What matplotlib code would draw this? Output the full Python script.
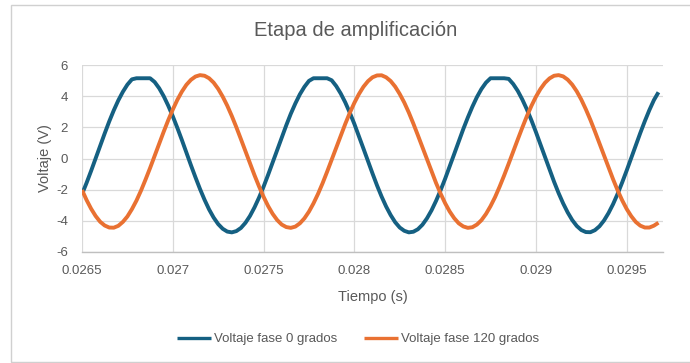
import matplotlib
matplotlib.use("Agg")
import matplotlib.pyplot as plt
from matplotlib.patches import Rectangle

plt.rcParams["font.family"] = ["Liberation Sans", "DejaVu Sans"]
plt.rcParams["axes.unicode_minus"] = False

# tiempo de muestreo (s)
tiempo = [
    0.026500, 0.026525, 0.026550, 0.026575, 0.026600, 0.026625, 0.026650, 0.026675,
    0.026700, 0.026725, 0.026750, 0.026775, 0.026800, 0.026825, 0.026850, 0.026875,
    0.026900, 0.026925, 0.026950, 0.026975, 0.027000, 0.027025, 0.027050, 0.027075,
    0.027100, 0.027125, 0.027150, 0.027175, 0.027200, 0.027225, 0.027250, 0.027275,
    0.027300, 0.027325, 0.027350, 0.027375, 0.027400, 0.027425, 0.027450, 0.027475,
    0.027500, 0.027525, 0.027550, 0.027575, 0.027600, 0.027625, 0.027650, 0.027675,
    0.027700, 0.027725, 0.027750, 0.027775, 0.027800, 0.027825, 0.027850, 0.027875,
    0.027900, 0.027925, 0.027950, 0.027975, 0.028000, 0.028025, 0.028050, 0.028075,
    0.028100, 0.028125, 0.028150, 0.028175, 0.028200, 0.028225, 0.028250, 0.028275,
    0.028300, 0.028325, 0.028350, 0.028375, 0.028400, 0.028425, 0.028450, 0.028475,
    0.028500, 0.028525, 0.028550, 0.028575, 0.028600, 0.028625, 0.028650, 0.028675,
    0.028700, 0.028725, 0.028750, 0.028775, 0.028800, 0.028825, 0.028850, 0.028875,
    0.028900, 0.028925, 0.028950, 0.028975, 0.029000, 0.029025, 0.029050, 0.029075,
    0.029100, 0.029125, 0.029150, 0.029175, 0.029200, 0.029225, 0.029250, 0.029275,
    0.029300, 0.029325, 0.029350, 0.029375, 0.029400, 0.029425, 0.029450, 0.029475,
    0.029500, 0.029525, 0.029550, 0.029575, 0.029600, 0.029625, 0.029650, 0.029675,
]

# voltaje fase 0 grados (V)
v_fase0 = [
    -2.29, -1.57, -0.80, 0.01, 0.82, 1.61, 2.38, 3.09,
    3.73, 4.28, 4.74, 5.08, 5.15, 5.15, 5.15, 5.15,
    4.91, 4.51, 4.00, 3.39, 2.71, 1.97, 1.19, 0.38,
    -0.43, -1.21, -1.96, -2.65, -3.27, -3.79, -4.21, -4.51,
    -4.69, -4.74, -4.66, -4.46, -4.13, -3.69, -3.14, -2.51,
    -1.81, -1.05, -0.25, 0.55, 1.36, 2.13, 2.87, 3.53,
    4.12, 4.60, 4.98, 5.15, 5.15, 5.15, 5.15, 5.02,
    4.65, 4.17, 3.60, 2.94, 2.22, 1.44, 0.64, -0.17,
    -0.96, -1.73, -2.44, -3.08, -3.63, -4.09, -4.43, -4.64,
    -4.74, -4.70, -4.54, -4.25, -3.84, -3.33, -2.72, -2.04,
    -1.30, -0.51, 0.29, 1.10, 1.89, 2.63, 3.32, 3.94,
    4.46, 4.87, 5.15, 5.15, 5.15, 5.15, 5.11, 4.78,
    4.34, 3.79, 3.16, 2.46, 1.70, 0.90, 0.09, -0.71,
    -1.49, -2.22, -2.88, -3.46, -3.95, -4.33, -4.59, -4.72,
    -4.73, -4.60, -4.35, -3.98, -3.50, -2.93, -2.27, -1.54,
    -0.77, 0.03, 0.84, 1.64, 2.40, 3.11, 3.75, 4.25,
]

# voltaje fase 120 grados (V)
v_fase120 = [
    -2.02, -2.66, -3.22, -3.69, -4.06, -4.30, -4.43, -4.44,
    -4.32, -4.07, -3.72, -3.25, -2.70, -2.06, -1.35, -0.61,
    0.17, 0.95, 1.72, 2.46, 3.14, 3.76, 4.29, 4.73,
    5.05, 5.26, 5.35, 5.31, 5.15, 4.87, 4.47, 3.97,
    3.39, 2.73, 2.01, 1.25, 0.47, -0.31, -1.07, -1.79,
    -2.46, -3.05, -3.55, -3.95, -4.24, -4.40, -4.45, -4.37,
    -4.16, -3.84, -3.41, -2.88, -2.27, -1.59, -0.85, -0.08,
    0.70, 1.47, 2.22, 2.93, 3.57, 4.13, 4.60, 4.96,
    5.21, 5.33, 5.34, 5.21, 4.97, 4.61, 4.14, 3.59,
    2.95, 2.24, 1.49, 0.72, -0.06, -0.83, -1.57, -2.25,
    -2.87, -3.40, -3.83, -4.16, -4.36, -4.45, -4.41, -4.24,
    -3.96, -3.56, -3.06, -2.48, -1.81, -1.09, -0.33, 0.45,
    1.22, 1.98, 2.71, 3.37, 3.96, 4.46, 4.86, 5.14,
    5.31, 5.35, 5.27, 5.06, 4.74, 4.31, 3.78, 3.16,
    2.48, 1.74, 0.97, 0.19, -0.59, -1.33, -2.04, -2.68,
    -3.24, -3.70, -4.07, -4.31, -4.43, -4.43, -4.31, -4.12,
]

x_ticks = [0.0265, 0.027, 0.0275, 0.028, 0.0285, 0.029, 0.0295]
x_ticklabels = ["0.0265", "0.027", "0.0275", "0.028", "0.0285", "0.029", "0.0295"]
y_ticks = [-6, -4, -2, 0, 2, 4, 6]

AZUL = "#156082"
NARANJA = "#E97132"
GRIS = "#595959"

fig = plt.figure(figsize=(6.9, 3.63), dpi=100)
ax = fig.add_axes([82 / 690, 1 - 252 / 363, 581 / 690, 187 / 363])

ax.plot(tiempo, v_fase0, color=AZUL, lw=2.8, label="Voltaje fase 0 grados",
        solid_joinstyle="round", solid_capstyle="butt")
ax.plot(tiempo, v_fase120, color=NARANJA, lw=2.8, label="Voltaje fase 120 grados",
        solid_joinstyle="round", solid_capstyle="butt")

ax.set_xlim(0.0265, 0.0297)
ax.set_ylim(-6, 6)
ax.set_xticks(x_ticks)
ax.set_xticklabels(x_ticklabels)
ax.set_yticks(y_ticks)
ax.tick_params(length=0, labelsize=9.5, labelcolor=GRIS)
ax.tick_params(axis="x", pad=9)
ax.tick_params(axis="y", pad=10)
ax.grid(True, color="#D9D9D9", lw=0.9)
ax.set_axisbelow(True)
for s in ["top", "right", "left"]:
    ax.spines[s].set_visible(False)
ax.spines["bottom"].set_color("#BFBFBF")
ax.spines["bottom"].set_linewidth(1.0)

ax.set_xlabel("Tiempo (s)", fontsize=10.5, color=GRIS, labelpad=10)
ax.set_ylabel("Voltaje (V)", fontsize=10.5, color=GRIS, labelpad=3)

fig.text(356 / 690, 1 - 31 / 363, "Etapa de amplificación", ha="center",
         va="center", fontsize=14.5, color=GRIS)

leg = fig.legend(loc="center", bbox_to_anchor=(358 / 690, 1 - 339 / 363), ncol=2,
                 frameon=False, fontsize=9.5, labelcolor=GRIS, handlelength=2.6,
                 handletextpad=0.2, columnspacing=2.0)
for h in leg.get_lines():
    h.set_linewidth(2.4)

# borde del área del gráfico
fig.patches.append(Rectangle((11 / 690, 1 / 363), 1.0, 357 / 363,
                             transform=fig.transFigure, fill=False,
                             edgecolor="#D0D0D0", lw=1.0))

fig.savefig("out.png", dpi=100)
